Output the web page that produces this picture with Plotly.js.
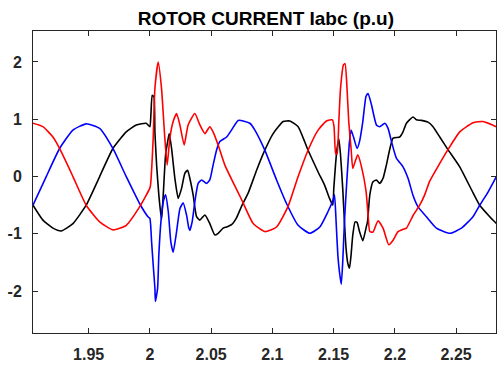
<!DOCTYPE html>
<html>
<head>
<meta charset="utf-8">
<script src="https://cdn.plot.ly/plotly-3.0.1.min.js"></script>
<style>html,body{margin:0;padding:0;background:#fff;}#chart{width:497px;height:365px;}</style>
</head>
<body>
<div id="chart"></div>
<script>
// Phase currents (time in s, current in p.u.)
const tRed = [1.9046,1.9127,1.9209,1.9263,1.9372,1.9480,1.9590,1.9698,1.9807,1.9916,1.9998,2.0005,2.0027,2.0041,2.0068,2.0095,2.0122,2.0141,2.0163,2.0190,2.0218,2.0245,2.0280,2.0312,2.0367,2.0408,2.0449,2.0489,2.0516,2.0557,2.0612,2.0679,2.0748,2.0761,2.0843,2.0938,2.1034,2.1128,2.1210,2.1291,2.1373,2.1441,2.1490,2.1503,2.1517,2.1528,2.1542,2.1556,2.1580,2.1593,2.1609,2.1623,2.1642,2.1656,2.1675,2.1697,2.1724,2.1764,2.1781,2.1795,2.1821,2.1862,2.1903,2.1950,2.1985,2.2025,2.2066,2.2094,2.2148,2.2202,2.2243,2.2284,2.2366,2.2433,2.2529,2.2637,2.2719,2.2828];
const iRed = [0.93,0.87,0.69,0.49,0.00,-0.50,-0.79,-0.93,-0.85,-0.53,-0.21,-0.15,0.67,1.54,2.00,1.54,0.67,0.20,0.67,0.96,1.10,0.90,0.55,0.90,1.10,0.90,0.75,0.87,0.78,0.55,0.20,-0.10,-0.40,-0.46,-0.82,-0.96,-0.88,-0.52,0.00,0.46,0.81,0.97,0.99,0.87,0.40,0.40,0.96,1.54,1.95,1.97,1.54,0.96,0.49,0.14,0.26,0.38,0.20,-0.25,-0.67,-0.96,-0.97,-0.77,-0.90,-1.19,-1.11,-0.96,-0.92,-0.90,-0.68,-0.50,-0.32,-0.08,0.23,0.47,0.78,0.94,0.96,0.87];

const tBlue = [1.9046,1.9154,1.9263,1.9372,1.9480,1.9590,1.9698,1.9807,1.9916,1.9984,2.0000,2.0014,2.0027,2.0041,2.0045,2.0063,2.0073,2.0090,2.0109,2.0128,2.0150,2.0171,2.0190,2.0218,2.0245,2.0272,2.0299,2.0318,2.0326,2.0345,2.0367,2.0394,2.0422,2.0462,2.0489,2.0516,2.0544,2.0571,2.0626,2.0666,2.0721,2.0816,2.0857,2.0938,2.1034,2.1115,2.1210,2.1305,2.1387,2.1454,2.1495,2.1507,2.1520,2.1534,2.1547,2.1562,2.1574,2.1588,2.1607,2.1629,2.1642,2.1662,2.1691,2.1711,2.1738,2.1764,2.1781,2.1809,2.1849,2.1876,2.1917,2.1944,2.1972,2.2012,2.2066,2.2107,2.2148,2.2189,2.2257,2.2339,2.2448,2.2543,2.2637,2.2692,2.2760,2.2828];
const iBlue = [-0.50,0.00,0.49,0.81,0.92,0.84,0.49,0.00,-0.47,-0.70,-0.73,-1.14,-1.54,-1.95,-2.18,-1.95,-1.37,-0.79,-0.44,-0.32,-0.61,-1.14,-1.32,-0.96,-0.56,-0.46,-0.67,-0.90,-0.94,-0.79,-0.44,-0.12,-0.06,-0.12,-0.06,0.20,0.46,0.61,0.69,0.81,0.98,0.93,0.81,0.46,-0.06,-0.47,-0.85,-0.99,-0.88,-0.61,-0.41,-0.32,-0.79,-1.37,-1.66,-1.88,-1.49,-0.79,-0.09,0.61,0.81,0.69,0.49,0.61,0.96,1.40,1.45,1.25,0.90,0.87,0.93,0.84,0.61,0.32,0.17,-0.03,-0.33,-0.53,-0.70,-0.90,-0.99,-0.90,-0.70,-0.50,-0.27,0.00];

const tBlack = [1.9046,1.9127,1.9209,1.9276,1.9372,1.9480,1.9590,1.9698,1.9807,1.9889,1.9970,2.0000,2.0008,2.0019,2.0033,2.0041,2.0055,2.0073,2.0095,2.0109,2.0128,2.0145,2.0158,2.0177,2.0204,2.0231,2.0258,2.0286,2.0308,2.0326,2.0353,2.0381,2.0408,2.0449,2.0489,2.0530,2.0557,2.0598,2.0626,2.0666,2.0707,2.0748,2.0802,2.0871,2.0938,2.1006,2.1088,2.1142,2.1210,2.1291,2.1373,2.1426,2.1466,2.1493,2.1501,2.1515,2.1528,2.1542,2.1556,2.1574,2.1588,2.1601,2.1615,2.1629,2.1642,2.1656,2.1675,2.1691,2.1711,2.1738,2.1764,2.1776,2.1795,2.1821,2.1849,2.1876,2.1903,2.1930,2.1985,2.2039,2.2066,2.2094,2.2148,2.2175,2.2216,2.2270,2.2311,2.2366,2.2433,2.2529,2.2637,2.2692,2.2774,2.2828];
const iBlack = [-0.50,-0.76,-0.90,-0.95,-0.82,-0.50,0.00,0.49,0.78,0.90,0.93,0.87,1.07,1.42,1.39,0.78,0.20,-0.32,-0.75,-0.32,0.38,0.61,0.75,0.49,-0.03,-0.38,-0.21,0.06,0.11,-0.03,-0.32,-0.70,-0.76,-0.67,-0.82,-1.02,-0.99,-0.90,-0.88,-0.84,-0.72,-0.52,-0.29,0.11,0.46,0.75,0.96,0.97,0.87,0.46,0.08,-0.15,-0.38,-0.50,-0.21,0.20,0.49,0.66,0.38,-0.21,-0.79,-1.25,-1.51,-1.60,-1.37,-1.02,-0.79,-0.80,-0.96,-1.12,-0.90,-0.79,-0.32,-0.09,-0.06,-0.12,-0.03,0.20,0.67,0.69,0.78,0.93,1.04,0.99,0.98,0.95,0.87,0.69,0.47,0.17,-0.28,-0.50,-0.70,-0.82];

const xTicks = [1.95,2,2.05,2.1,2.15,2.2,2.25];
const xTickText = ['1.95','2','2.05','2.1','2.15','2.2','2.25'];
const yTicks = [-2,-1,0,1,2];
const yTickText = ['-2','-1','0','1','2'];

const FONT = 'Liberation Sans, Arial, Helvetica, sans-serif';
const mk = (x, y, c) => ({x: x, y: y, type: 'scatter', mode: 'lines', line: {color: c, width: 1.6, shape: 'spline', smoothing: 0.5}, hoverinfo: 'skip', showlegend: false});
const traces = [mk(tBlack, iBlack, '#000000'), mk(tBlue, iBlue, '#0000ff'), mk(tRed, iRed, '#ff0000')];

const axBase = {showgrid: false, zeroline: false, ticks: 'inside', ticklen: 5, tickwidth: 1, tickcolor: '#262626',
  showline: true, linecolor: '#262626', linewidth: 1, mirror: 'ticks',
  tickfont: {family: FONT, size: 16, color: '#262626', weight: 'bold'}};

const layout = {
  width: 497, height: 365,
  margin: {l: 33, r: 1, t: 31, b: 32},
  paper_bgcolor: '#ffffff', plot_bgcolor: '#ffffff',
  title: {text: '<b>ROTOR CURRENT Iabc (p.u)</b>', font: {family: FONT, size: 19, color: '#000000'}, x: 0.535, xanchor: 'center', y: 0.95, yanchor: 'middle'},
  xaxis: Object.assign({}, axBase, {range: [1.9046, 2.2825], tickvals: xTicks, ticktext: xTickText, ticklabelstandoff: 7}),
  yaxis: Object.assign({}, axBase, {range: [-2.73, 2.54], tickvals: yTicks, ticktext: yTickText, ticklabelstandoff: 7})
};

Plotly.newPlot('chart', traces, layout, {staticPlot: true, displayModeBar: false});
</script>
</body>
</html>
